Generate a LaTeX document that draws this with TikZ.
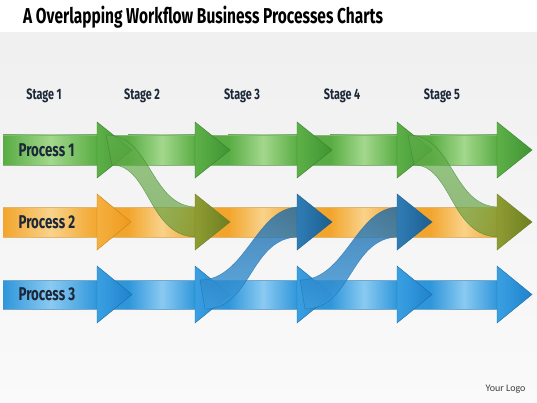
\documentclass[tikz,border=0pt]{standalone}
\usepackage{fontspec}
\newfontfamily\condfont[FakeStretch=0.72]{Fira Sans}
\newfontfamily\logofont{Carlito}
\definecolor{gmid}{HTML}{58AC43}
\definecolor{glight}{HTML}{A3D88C}
\definecolor{ghl}{HTML}{5EB048}
\definecolor{ghd}{HTML}{3F9533}
\definecolor{gedge}{HTML}{3A7F2E}
\definecolor{gband}{HTML}{5FB04A}
\definecolor{gbandd}{HTML}{5E9636}
\definecolor{omid}{HTML}{F2A52C}
\definecolor{olight}{HTML}{F9D28A}
\definecolor{ohl}{HTML}{F5B040}
\definecolor{ohd}{HTML}{EE9A1C}
\definecolor{oedge}{HTML}{C98414}
\definecolor{bmid}{HTML}{2E96DA}
\definecolor{blight}{HTML}{8ACAF2}
\definecolor{bhl}{HTML}{3AA0E2}
\definecolor{bhd}{HTML}{1F82CC}
\definecolor{bedge}{HTML}{1B6CA8}
\definecolor{bband}{HTML}{3A9BDC}
\definecolor{bbandd}{HTML}{1C68A8}
\definecolor{olivel}{HTML}{8E9C32}
\definecolor{olived}{HTML}{6E7F22}
\definecolor{dbl}{HTML}{2F7DB6}
\definecolor{dbd}{HTML}{1D5E8E}
\definecolor{txt}{HTML}{1C2838}
\tikzset{
  headshape/.style={line width=0.4pt},
  bandgreen/.style={top color=gband, bottom color=gbandd, fill opacity=0.65, draw=gedge, draw opacity=0.7, line width=0.4pt},
  bandblue/.style={top color=bbandd, bottom color=bband, fill opacity=0.8, draw=bedge, draw opacity=0.7, line width=0.4pt},
  proclabel/.style={anchor=west, text=txt, font=\condfont\bfseries\fontsize{18.5}{18.5}\selectfont},
  stagelabel/.style={text=txt, font=\condfont\bfseries\fontsize{15}{15}\selectfont},
}
\begin{document}
\begin{tikzpicture}[x=1pt,y=-1pt]
\path[use as bounding box] (0,0) rectangle (537,403);
\fill[white] (0,0) rectangle (537,403);
\shade[top color=black!6, bottom color=black!2] (0,33) rectangle (537,403);

% title
\node[anchor=base west, inner sep=0pt, font=\condfont\bfseries\fontsize{21.5}{21.5}\selectfont] (title) at (23,23.3) {A Overlapping Workflow Business Processes Charts};

% stage labels
\node[stagelabel] (s1) at (44,96) {Stage 1};
\node[stagelabel] (s2) at (142,96) {Stage 2};
\node[stagelabel] (s3) at (242,96) {Stage 3};
\node[stagelabel] (s4) at (342,96) {Stage 4};
\node[stagelabel] (s5) at (442,96) {Stage 5};

% ---- row 1 (green)
\fill[gmid] (3,135) rectangle (500,165);
\foreach \a/\b in {3/97,128/195,228/297,330/397,430/497}
  \shade[left color=gmid, right color=gmid, middle color=glight] (\a,135) rectangle (\b+1,165);
\draw[gedge!60, line width=0.3pt] (3,135) -- (500,135) (3,165) -- (500,165);
\foreach \b in {97,195,297,397,497}
  \shadedraw[headshape, left color=ghl, right color=ghd, draw=gedge] (\b,122) -- (\b+35,150) -- (\b,178) -- cycle;

% ---- row 2 (orange)
\fill[omid] (3,207) rectangle (500,237);
\foreach \a/\b in {3/97,128/195,228/297,330/397,430/497}
  \shade[left color=omid, right color=omid, middle color=olight] (\a,207) rectangle (\b+1,237);
\draw[oedge!60, line width=0.3pt] (3,207) -- (500,207) (3,237) -- (500,237);
\shadedraw[headshape, left color=ohl, right color=ohd, draw=oedge] (97,194) -- (131,222) -- (97,250) -- cycle;

% ---- row 3 (blue)
\fill[bmid] (3,280) rectangle (500,309);
\foreach \a/\b in {3/97,128/195,228/297,330/397,430/497}
  \shade[left color=bmid, right color=bmid, middle color=blight] (\a,280) rectangle (\b+1,309);
\draw[bedge!60, line width=0.3pt] (3,280) -- (500,280) (3,309) -- (500,309);
\foreach \b in {97,195,297,397,497}
  \shadedraw[headshape, left color=bhl, right color=bhd, draw=bedge] (\b,266) -- (\b+35,294.5) -- (\b,323) -- cycle;

% ---- curved bands
% green 1: row1 -> row2 at stage 2
\shadedraw[bandgreen] (106,135) .. controls (152,135) and (150,207) .. (197,207)
   -- (197,237) .. controls (148,237) and (150,165) .. (112,165) -- cycle;
% green 2: row1 -> row2 at stage 5
\shadedraw[bandgreen] (408,135) .. controls (454,135) and (452,207) .. (499,207)
   -- (499,237) .. controls (450,237) and (452,165) .. (414,165) -- cycle;
% blue 1: row3 -> row2 at stage 3
\shadedraw[bandblue] (205,309) .. controls (252,309) and (250,237) .. (299,237)
   -- (299,207) .. controls (256,207) and (246,280) .. (200,280) -- cycle;
% blue 2: row3 -> row2 at stage 4
\shadedraw[bandblue] (305,309) .. controls (352,309) and (350,237) .. (399,237)
   -- (399,207) .. controls (356,207) and (346,280) .. (300,280) -- cycle;

% heads of the curved arrows
\shadedraw[headshape, left color=olivel, right color=olived, draw=olived] (195,194) -- (230,222) -- (195,250) -- cycle;
\shadedraw[headshape, left color=olivel, right color=olived, draw=olived] (497,194) -- (532,222) -- (497,250) -- cycle;
\shadedraw[headshape, left color=dbl, right color=dbd, draw=dbd] (297,194) -- (332,222) -- (297,250) -- cycle;
\shadedraw[headshape, left color=dbl, right color=dbd, draw=dbd] (397,194) -- (432,222) -- (397,250) -- cycle;

% process labels
\node[proclabel] (p1) at (15,150) {Process 1};
\node[proclabel] (p2) at (15,222) {Process 2};
\node[proclabel] (p3) at (15,294.5) {Process 3};

% logo
\node[anchor=east, text=black!75, font=\logofont\fontsize{10}{10}\selectfont] (logo) at (529,389) {Your Logo};
\end{tikzpicture}
\end{document}
